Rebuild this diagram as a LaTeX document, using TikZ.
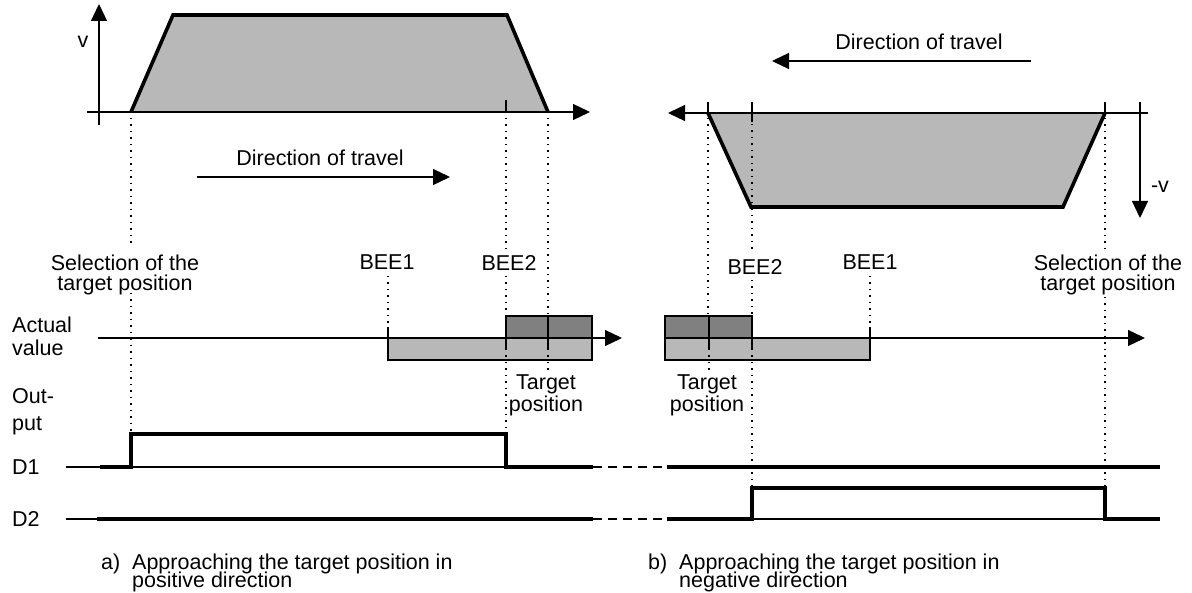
\documentclass[tikz,border=0pt]{standalone}
\usepackage{fontspec}
\setmainfont{Liberation Sans}
\usetikzlibrary{arrows.meta}
\colorlet{lightdots}{black!28}
\colorlet{darkdots}{black!50}
\newcommand\tightlines{\lineskiplimit=-50pt\relax}
\tikzset{
  axis/.style={line width=1.3pt,-{Triangle[length=17pt,width=16pt]}},
  profile/.style={line width=3.6pt,line join=miter},
  signal/.style={line width=4pt,line join=miter},
  thinline/.style={line width=1.1pt},
  guide/.style={line width=1.5pt,dash pattern=on 1.5pt off 5pt},
  lbl/.style={inner sep=0pt,align=center},
}
\begin{document}
\begin{tikzpicture}[x=1pt,y=-1pt,font=\fontsize{21.5}{20}\selectfont]
\path[fill=white,use as bounding box] (0,0) rectangle (1192,593);

% velocity profile, positive direction
\fill[lightdots] (131,112) -- (173,15) -- (507,15) -- (548,112) -- cycle;
\draw[profile] (131,112) -- (173,15) -- (507,15) -- (548,112);
\draw[axis] (87,112) -- (590,112);
\draw[axis] (99,125) -- (99,4);
\draw[thinline] (506,100) -- (506,112);
\node[lbl] (v) at (83,42) {v};

% velocity profile, negative direction
\fill[lightdots] (708,113) -- (751,207) -- (1063,207) -- (1105,113) -- cycle;
\draw[profile] (708,113) -- (751,207) -- (1063,207) -- (1105,113);
\draw[axis] (1148,113) -- (668,113);
\draw[axis] (1140,102) -- (1140,218);
\draw[thinline] (708,102) -- (708,113);
\draw[thinline] (752,102) -- (752,122);
\draw[thinline] (1105,102) -- (1105,113);
\node[lbl] (mv) at (1160,187) {-v};

% direction of travel
\draw[axis] (197,177) -- (450,177);
\node[lbl,anchor=north] (dirl) at (320,149.5) {Direction of travel};
\draw[axis] (1031,61) -- (772,61);
\node[lbl,anchor=north] (dirr) at (919,34) {Direction of travel};

% actual value, left
\fill[lightdots,draw=black,thinline] (388,338) rectangle (592,360);
\fill[darkdots,draw=black,thinline] (506,316) rectangle (592,338);
\draw[axis] (98,338) -- (622,338);
\draw[thinline] (388,327) -- (388,338);
\draw[thinline] (506,316) -- (506,349);
\draw[thinline] (548,316) -- (548,349);

% actual value, right
\fill[lightdots,draw=black,thinline] (665,338) rectangle (870,360);
\fill[darkdots,draw=black,thinline] (665,316) rectangle (752,338);
\draw[axis] (665,338) -- (1145,338);
\draw[thinline] (870,327) -- (870,338);
\draw[thinline] (709,316) -- (709,349);
\draw[thinline] (752,316) -- (752,349);

% guide lines
\draw[guide] (131,118) -- (131,245) (131,293) -- (131,432);
\draw[guide] (506,118) -- (506,250) (506,276) -- (506,316) (506,349) -- (506,432);
\draw[guide] (548,118) -- (548,316) (548,349) -- (548,372);
\draw[guide] (388,276) -- (388,327);
\draw[guide] (708,118) -- (708,316) (709,349) -- (709,370);
\draw[guide] (752,124) -- (752,252) (752,280) -- (752,316) (752,349) -- (752,486);
\draw[guide] (870,276) -- (870,327);
\draw[guide] (1105,118) -- (1105,250) (1105,297) -- (1105,486);

% outputs D1 and D2
\draw[thinline] (66,467) -- (593,467);
\draw[signal] (100,467) -- (131,467) -- (131,434) -- (506,434) -- (506,467) -- (593,467);
\draw[thinline,dash pattern=on 9pt off 6pt] (593,467) -- (667,467);
\draw[signal] (667,467) -- (1160,467);
\draw[thinline] (66,519) -- (97,519);
\draw[signal] (97,519) -- (593,519);
\draw[thinline,dash pattern=on 9pt off 6pt] (593,519) -- (667,519);
\draw[thinline] (752,519) -- (1105,519);
\draw[signal] (667,519) -- (752,519) -- (752,488) -- (1105,488) -- (1105,519) -- (1160,519);

% labels
\node[lbl,anchor=north] (sell) at (125,255) {Selection of the\\target position};
\node[lbl,anchor=north] (selr) at (1108,255) {Selection of the\\target position};
\node[lbl,anchor=north] (bee1l) at (387,255) {BEE1};
\node[lbl,anchor=north] (bee2l) at (509,255) {BEE2};
\node[lbl,anchor=north] (bee2r) at (755,259) {BEE2};
\node[lbl,anchor=north] (bee1r) at (870,255) {BEE1};
\node[lbl,anchor=north] (tgtl) at (546,375) {Target\\position};
\node[lbl,anchor=north] (tgtr) at (707,375) {Target\\position};
\node[lbl,align=left,anchor=north west,font=\fontsize{21.5}{23}\selectfont] (act) at (12,317) {Actual\\value};
\node[lbl,align=left,anchor=north west,font=\fontsize{21.5}{27}\selectfont] (out) at (12,388) {Out-\\put};
\node[lbl,anchor=west] (d1) at (12,467) {D1};
\node[lbl,anchor=west] (d2) at (12,519) {D2};
\node[lbl,anchor=base west] (capa) at (101,569) {a)};
\node[lbl,align=left,anchor=north west,font=\fontsize{21.5}{18}\selectfont\tightlines] (capat) at (132,553.5) {Approaching the target position in\\positive direction};
\node[lbl,anchor=base west] (capb) at (648,569) {b)};
\node[lbl,align=left,anchor=north west,font=\fontsize{21.5}{18}\selectfont\tightlines] (capbt) at (679,553.5) {Approaching the target position in\\negative direction};
\end{tikzpicture}
\end{document}
